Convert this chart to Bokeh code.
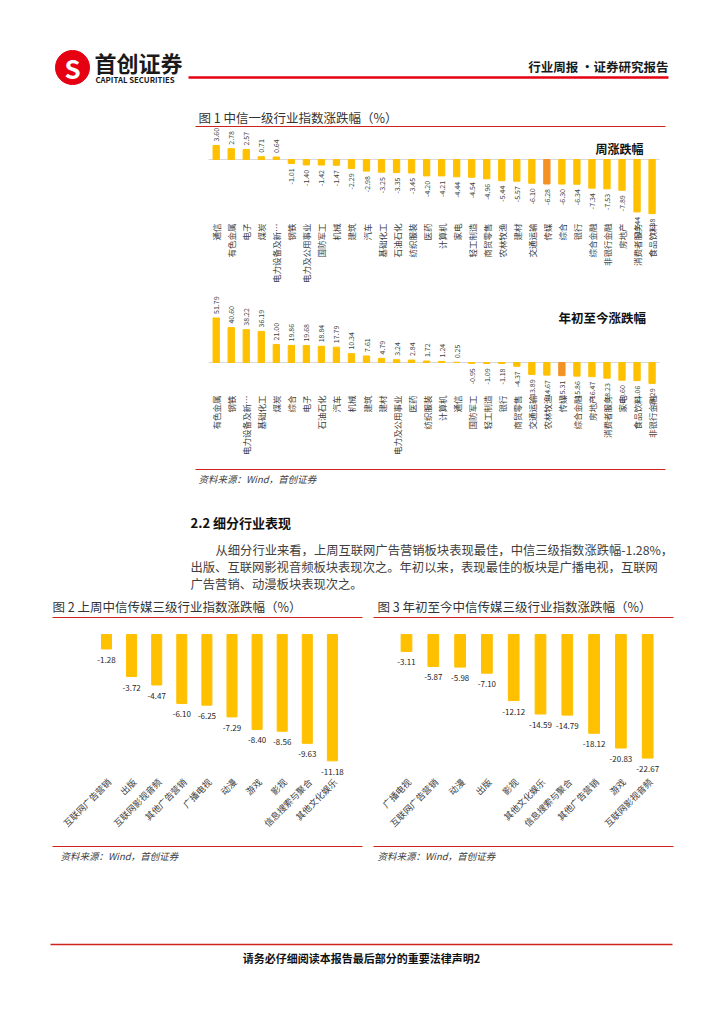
import math
from bokeh.plotting import figure
from bokeh.models import Range1d, ColumnDataSource
from bokeh.core.properties import value
from bokeh.embed import file_html
from bokeh.resources import INLINE

# ---------------- data ----------------
week_cats = ["通信", "有色金属", "电子", "煤炭", "电力设备及新…", "钢铁", "电力及公用事业", "国防军工",
             "机械", "建筑", "汽车", "基础化工", "石油石化", "纺织服装", "医药", "计算机", "家电",
             "轻工制造", "商贸零售", "农林牧渔", "建材", "交通运输", "传媒", "综合", "银行",
             "综合金融", "非银行金融", "房地产", "消费者服务", "食品饮料"]
week_vals = [3.60, 2.78, 2.57, 0.71, 0.64, -1.01, -1.40, -1.42, -1.47, -2.29, -2.98, -3.25, -3.35,
             -3.45, -4.20, -4.21, -4.44, -4.54, -4.96, -5.44, -5.57, -6.10, -6.28, -6.30, -6.34,
             -7.34, -7.53, -7.89, -13.44, -13.88]

ytd_cats = ["有色金属", "钢铁", "电力设备及新…", "基础化工", "煤炭", "综合", "电子", "石油石化", "汽车",
            "机械", "建筑", "建材", "电力及公用事业", "医药", "纺织服装", "计算机", "通信", "国防军工",
            "轻工制造", "银行", "商贸零售", "交通运输", "农林牧渔", "传媒", "综合金融", "房地产",
            "消费者服务", "家电", "食品饮料", "非银行金融"]
ytd_vals = [51.79, 40.60, 38.22, 36.19, 21.00, 19.86, 19.68, 18.84, 17.79, 10.34, 7.61, 4.79, 3.24,
            2.84, 1.72, 1.24, 0.25, -0.95, -1.09, -1.18, -4.37, -13.89, -14.67, -15.31, -15.86,
            -16.47, -18.23, -20.60, -21.06, -24.29]

f2_cats = ["互联网广告营销", "出版", "互联网影视音频", "其他广告营销", "广播电视", "动漫", "游戏",
           "影视", "信息搜索与聚合", "其他文化娱乐"]
f2_vals = [-1.28, -3.72, -4.47, -6.10, -6.25, -7.29, -8.40, -8.56, -9.63, -11.18]

f3_cats = ["广播电视", "互联网广告营销", "动漫", "出版", "影视", "其他文化娱乐", "信息搜索与聚合",
           "其他广告营销", "游戏", "互联网影视音频"]
f3_vals = [-3.11, -5.87, -5.98, -7.10, -12.12, -14.59, -14.79, -18.12, -20.83, -22.67]

highlight = "传媒"

# ---------------- page ----------------
W, H = 708, 1008
OFF = 0
FONT = value("Noto Sans CJK SC")
YEL, ORG, RED = "#FFC000", "#F39125", "#D0221C"

p = figure(width=W, height=H, x_range=Range1d(OFF, OFF + W), y_range=Range1d(OFF + H, OFF),
           output_backend="svg", toolbar_location=None, min_border=0,
           x_axis_type=None, y_axis_type=None)
p.grid.visible = False
p.outline_line_color = None
p.background_fill_color = "white"

panels = {
    "wk": (215.7, 15.03, 159.0, 3.9),
    "ytd": (215.7, 15.03, 362.0, 0.86),
    "f2": (106.0, 25.1, 634.0, 11.3),
    "f3": (406.0, 26.8, 634.0, 5.45),
}
ex, ey = {}, {}
for k, (x0, dx, y0, dy) in panels.items():
    ex[k] = Range1d((OFF - x0) / dx, (OFF + W - x0) / dx)
    ey[k] = Range1d((y0 - (OFF + H)) / dy, (y0 - OFF) / dy)
p.extra_x_ranges = ex
p.extra_y_ranges = ey

def txt(x, y, t, size, color="#262626", bold=False, italic=False, align="left", base="middle", angle=0):
    style = "bold" if bold else ("italic" if italic else "normal")
    p.text(x=[x], y=[y], text=[t], text_font=FONT, text_font_size=f"{size}px", text_color=color,
           text_font_style=style, text_align=align, text_baseline=base, angle=angle)

def hline(x0, x1, y, color=RED, w=1.2):
    p.segment(x0=[x0], x1=[x1], y0=[y], y1=[y], line_color=color, line_width=w)

# ---------------- header ----------------
p.scatter(x=[72], y=[67], size=34, color="#E50012", marker="circle")
txt(72, 67, "S", 26, color="white", bold=True, align="center")
txt(94, 61, "首创证券", 22, color="#1a1a1a", bold=True)
txt(95, 79, "CAPITAL SECURITIES", 7.8, color="#1a1a1a", bold=True)
hline(188, 668, 77, color="#E50012", w=2.5)
txt(668, 66, "行业周报 ·证券研究报告", 12.5, color="#1a1a1a", bold=True, align="right")

# ---------------- figure 1 ----------------
txt(198, 117, "图 1 中信一级行业指数涨跌幅（%）", 12.5, color="#333333")
hline(195, 665, 126)

def vpanel(name, cats, vals, label_top):
    x0, dx, y0, dy = panels[name]
    idx = list(range(len(cats)))
    cols = [ORG if c == highlight else YEL for c in cats]
    src = ColumnDataSource(dict(i=idx, v=vals, c=cols))
    p.segment(x0=[-0.5], x1=[len(cats) - 0.5], y0=[0], y1=[0], line_color="#D9D9D9", line_width=1,
              x_range_name=name, y_range_name=name)
    p.vbar(x="i", top="v", bottom=0, width=0.42, color="c", source=src,
           x_range_name=name, y_range_name=name)
    pos_i = [i for i in idx if vals[i] >= 0]
    neg_i = [i for i in idx if vals[i] < 0]
    p.text(x=pos_i, y=[vals[i] + 4 / dy for i in pos_i], text=[f"{vals[i]:.2f}" for i in pos_i],
           angle=math.pi / 2, text_align="left", text_baseline="middle", text_font=FONT,
           text_font_size="7px", text_color="#404040", x_range_name=name, y_range_name=name)
    p.text(x=neg_i, y=[vals[i] - 5 / dy for i in neg_i], text=[f"{vals[i]:.2f}" for i in neg_i],
           angle=math.pi / 2, text_align="right", text_baseline="middle", text_font=FONT,
           text_font_size="7px", text_color="#404040", x_range_name=name, y_range_name=name)
    ly = (y0 - label_top) / dy
    p.text(x=idx, y=[ly] * len(idx), text=cats, angle=math.pi / 2, text_align="right",
           text_baseline="middle", text_font=FONT, text_font_size="8.5px", text_color="#404040",
           x_range_name=name, y_range_name=name)

vpanel("wk", week_cats, week_vals, 223)
vpanel("ytd", ytd_cats, ytd_vals, 395)
txt(595, 148, "周涨跌幅", 12, color="#111111", bold=True)
txt(558, 317, "年初至今涨跌幅", 12.5, color="#111111", bold=True)
hline(195, 665, 469)
txt(198, 478, "资料来源：Wind，首创证券", 9.5, color="#404040", italic=True)

# ---------------- text section ----------------
txt(190, 522, "2.2  细分行业表现", 13, color="#111111", bold=True)
para = ["从细分行业来看，上周互联网广告营销板块表现最佳，中信三级指数涨跌幅-1.28%，",
        "出版、互联网影视音频板块表现次之。年初以来，表现最佳的板块是广播电视，互联网",
        "广告营销、动漫板块表现次之。"]
txt(215, 549, para[0], 12.3, color="#404040")
txt(190, 566, para[1], 12.3, color="#404040")
txt(190, 583, para[2], 12.3, color="#404040")

# ---------------- figures 2 and 3 ----------------
def dpanel(name, cats, vals):
    x0, dx, y0, dy = panels[name]
    idx = list(range(len(cats)))
    src = ColumnDataSource(dict(i=idx, v=vals))
    p.vbar(x="i", top=0, bottom="v", width=0.4, color=YEL, source=src,
           x_range_name=name, y_range_name=name)
    p.text(x=idx, y=[v - 8 / dy for v in vals], text=[f"{v:.2f}" for v in vals],
           text_align="center", text_baseline="top", text_font=FONT, text_font_size="8px",
           text_color="#262626", x_range_name=name, y_range_name=name)
    ly = (y0 - 780) / dy
    p.text(x=[i + 3 / dx for i in idx], y=[ly] * len(idx), text=cats, angle=math.pi / 4,
           text_align="right", text_baseline="middle", text_font=FONT, text_font_size="9px",
           text_color="#404040", x_range_name=name, y_range_name=name)

txt(52, 606, "图 2 上周中信传媒三级行业指数涨跌幅（%）", 12.5, color="#333333")
txt(377, 606, "图 3 年初至今中信传媒三级行业指数涨跌幅（%）", 12.5, color="#333333")
hline(52, 362, 617)
hline(373, 673, 617)
dpanel("f2", f2_cats, f2_vals)
dpanel("f3", f3_cats, f3_vals)
hline(52, 362, 846)
hline(373, 673, 846)
txt(60, 855, "资料来源：Wind，首创证券", 9.5, color="#404040", italic=True)
txt(377, 855, "资料来源：Wind，首创证券", 9.5, color="#404040", italic=True)

# ---------------- footer ----------------
hline(50, 672, 944, w=1.5)
txt(361, 957, "请务必仔细阅读本报告最后部分的重要法律声明2", 11, color="#111111", bold=True, align="center")

open("out.html", "w").write(file_html(p, INLINE))
